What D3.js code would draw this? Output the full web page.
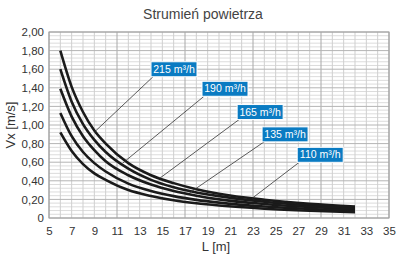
<!DOCTYPE html>
<html><head><meta charset="utf-8">
<script src="https://cdn.jsdelivr.net/npm/d3@7"></script>
<style>body{margin:0;background:#fff}svg{display:block;font-family:"Liberation Sans",Arial,sans-serif}</style>
</head><body><svg id="c" width="400" height="270"></svg>
<script>
const L = [6, 7, 8, 9, 10, 12, 14, 16, 18, 20, 24, 28, 32];
const v215 = [1.80, 1.41, 1.14, 0.94, 0.80, 0.59, 0.46, 0.375, 0.31, 0.26, 0.196, 0.153, 0.124];
const v190 = [1.60, 1.25, 1.01, 0.84, 0.71, 0.53, 0.41, 0.33, 0.275, 0.235, 0.175, 0.136, 0.11];
const v165 = [1.39, 1.09, 0.88, 0.73, 0.61, 0.46, 0.36, 0.29, 0.24, 0.20, 0.15, 0.118, 0.095];
const v135 = [1.13, 0.88, 0.71, 0.59, 0.50, 0.37, 0.29, 0.235, 0.195, 0.165, 0.123, 0.096, 0.078];
const v110 = [0.92, 0.72, 0.58, 0.48, 0.41, 0.30, 0.237, 0.19, 0.158, 0.134, 0.10, 0.078, 0.063];
const seriesNames = ["215 m³/h", "190 m³/h", "165 m³/h", "135 m³/h", "110 m³/h"];
const seriesValues = [v215, v190, v165, v135, v110];
// label anchor (L, V) for box top-left and leader end point (L, V)
const labelBoxL = [14.0, 18.5, 21.6, 23.8, 26.9];
const labelBoxV = [1.68, 1.47, 1.22, 0.98, 0.76];
const leaderEndL = [9.06, 11.5, 14.8, 17.4, 22.9];
const leaderEndV = [0.93, 0.59, 0.43, 0.27, 0.21];
const xTicks = [5,7,9,11,13,15,17,19,21,23,25,27,29,31,33,35];
const yTicks = [0,0.2,0.4,0.6,0.8,1.0,1.2,1.4,1.6,1.8,2.0];

const svg = d3.select("#c");
const x = d3.scaleLinear().domain([5,35]).range([49,389]);
const y = d3.scaleLinear().domain([0,2]).range([218,32]);

// grid
const g = svg.append("g");
d3.range(0, 2.0001, 0.04).forEach((v,i)=>{
  const major = i % 5 === 0;
  if (major) return;
  g.append("line").attr("x1",x(5)).attr("x2",x(35)).attr("y1",y(v)).attr("y2",y(v))
   .attr("stroke","#dcdcdc").attr("stroke-width",1);
});
d3.range(5, 35.001, 1).forEach(v=>{
  const major = (v-5) % 6 === 0;
  g.append("line").attr("x1",x(v)).attr("x2",x(v)).attr("y1",y(0)).attr("y2",y(2))
   .attr("stroke", major ? "#a8a8a8" : "#cfcfcf").attr("stroke-width",1);
});
yTicks.forEach(v=>{
  g.append("line").attr("x1",x(5)).attr("x2",x(35)).attr("y1",y(v)).attr("y2",y(v))
   .attr("stroke","#b4b4b4").attr("stroke-width",1);
});
g.append("rect").attr("x",x(5)).attr("y",y(2)).attr("width",x(35)-x(5)).attr("height",y(0)-y(2))
 .attr("fill","none").attr("stroke","#a0a0a0").attr("stroke-width",1);

// axes
const fmt = v => v === 0 ? "0" : d3.format(".2f")(v).replace(".", ",");
const ya = svg.append("g").attr("transform",`translate(${x(5)},0)`)
  .call(d3.axisLeft(y).tickValues(yTicks).tickFormat(fmt).tickSize(0).tickPadding(5));
ya.select(".domain").remove();
ya.selectAll("text").attr("font-size",11.5).attr("fill","#333").attr("font-family","Liberation Sans, Arial, sans-serif");
const xa = svg.append("g").attr("transform",`translate(0,${y(0)})`)
  .call(d3.axisBottom(x).tickValues(xTicks).tickFormat(d3.format("d")).tickSize(0).tickPadding(9));
xa.select(".domain").remove();
xa.selectAll("text").attr("font-size",11.5).attr("fill","#333").attr("font-family","Liberation Sans, Arial, sans-serif");

// curves
const line = d3.line().x((d,i)=>x(L[i])).y(d=>y(d)).curve(d3.curveMonotoneX);
seriesValues.forEach(vals=>{
  svg.append("path").attr("d", line(vals)).attr("fill","none")
    .attr("stroke","#1a1a1a").attr("stroke-width",2.6);
});

// leaders and labels
seriesNames.forEach((name,i)=>{
  const bx = x(labelBoxL[i]), by = y(labelBoxV[i]);
  const w = 46, h = 15;
  svg.append("line").attr("x1",bx+2).attr("y1",by+h).attr("x2",x(leaderEndL[i])).attr("y2",y(leaderEndV[i]))
    .attr("stroke","#333").attr("stroke-width",0.8);
  svg.append("rect").attr("x",bx).attr("y",by).attr("width",w).attr("height",h)
    .attr("fill","#0a7bc2").attr("stroke","#fff").attr("stroke-width",1);
  svg.append("text").attr("x",bx+w/2).attr("y",by+11).attr("text-anchor","middle")
    .attr("font-size",10.5).attr("fill","#fff").text(name);
});

// titles
svg.append("text").attr("x",203).attr("y",19).attr("text-anchor","middle")
  .attr("font-size",14).attr("fill","#444").text("Strumień powietrza");
svg.append("text").attr("transform",`translate(15,${(y(0)+y(2))/2}) rotate(-90)`).attr("text-anchor","middle")
  .attr("font-size",13).attr("fill","#333").text("Vx [m/s]");
svg.append("text").attr("x",216).attr("y",251).attr("text-anchor","middle")
  .attr("font-size",13).attr("fill","#333").text("L [m]");
</script></body></html>
